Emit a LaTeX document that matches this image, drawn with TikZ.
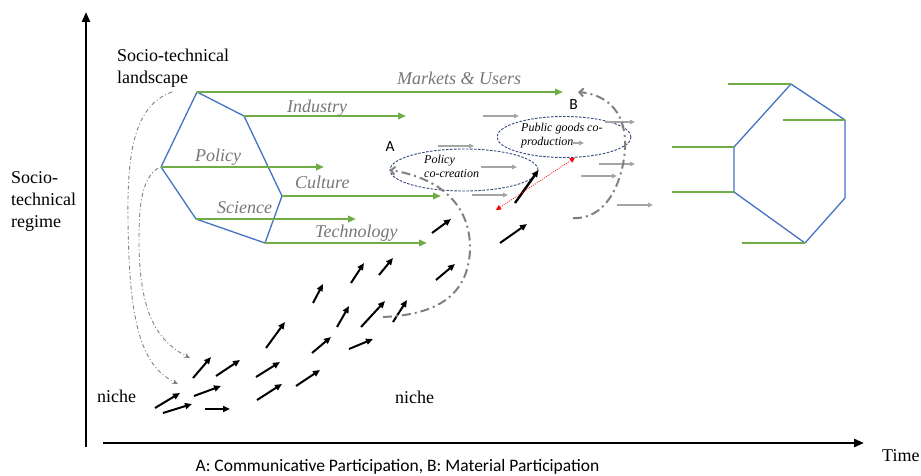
\documentclass[tikz,border=0pt]{standalone}
\usepackage{fontspec}
\setmainfont{Liberation Serif}
\newfontfamily\labelfont{Carlito}
\usepackage{xcolor}
\usetikzlibrary{arrows.meta,positioning,shapes.geometric}

\definecolor{trendgreen}{RGB}{112,173,71}
\definecolor{faceblue}{RGB}{68,114,196}
\definecolor{bubbleblue}{RGB}{47,69,122}
\definecolor{labelgray}{RGB}{118,118,118}
\definecolor{driftgray}{RGB}{165,165,165}
\definecolor{loopgray}{RGB}{128,128,128}

\begin{document}
\begin{tikzpicture}[x=1pt, y=-1pt,
    axis/.style={line width=2.6pt, -{Triangle[length=10pt,width=8pt]}},
    face/.style={draw=faceblue, line width=1.3pt, line join=round},
    trend/.style={draw=trendgreen, line width=2pt, -{Triangle[length=8pt,width=6.5pt]}},
    stub/.style={draw=trendgreen, line width=2pt},
    theme/.style={font=\fontsize{18}{21}\selectfont\itshape, text=labelgray, inner sep=0pt},
    plain/.style={font=\fontsize{18}{22}\selectfont, align=left, inner sep=0pt},
    note/.style={font=\fontsize{12}{14.5}\selectfont\itshape, align=left, inner sep=0pt},
    tag/.style={font=\labelfont\fontsize{15.5}{18}\selectfont, inner sep=0pt},
    bubble/.style={ellipse, draw=bubbleblue, line width=0.9pt, dash pattern=on 2.5pt off 1.5pt, inner sep=0pt},
    niche/.style={line width=2pt, -{Triangle[length=7pt,width=6pt]}},
    drift/.style={draw=driftgray, line width=1.1pt, -{Triangle[length=5pt,width=4.5pt]}},
    feedback/.style={draw=loopgray, line width=2pt, dash pattern=on 9pt off 4pt on 2pt off 4pt, -{Straight Barb[length=4pt,width=8pt]}},
    descend/.style={draw=loopgray, line width=0.9pt, dash pattern=on 4pt off 2.5pt on 1pt off 2.5pt, -{Stealth[length=6pt,width=5pt]}},
    exchange/.style={draw=red, line width=0.7pt, dash pattern=on 1pt off 1.2pt, {Triangle[length=5pt,width=5pt]}-{Triangle[length=5pt,width=5pt]}}
]
\useasboundingbox (0,0) rectangle (921,476);

% axes
\coordinate (v-start) at (86,447);
\coordinate (v-end) at (86,12);
\coordinate (h-start) at (103,443);
\coordinate (h-end) at (864,443);
\draw[axis] (v-start) -- (v-end);
\draw[axis] (h-start) -- (h-end);

\node[plain, anchor=north west] (landscape) at (117,48.5) {Socio-technical\\landscape};
\node[plain, anchor=north west] (regime) at (11,171) {Socio-\\technical\\regime};
\node[plain, anchor=base west] (niche-l) at (97,402) {niche};
\node[plain, anchor=base west] (niche-m) at (395,403) {niche};
\node[plain, anchor=base west] (time) at (882,461) {Time};
\node[tag, font=\labelfont\fontsize{17.5}{20}\selectfont, anchor=base] (caption) at (397.5,471) {A: Communicative Participation, B: Material Participation};

% landscape pressures (left hexagon)
\coordinate (ls-top) at (197,92);
\coordinate (ls-ur) at (244,116);
\coordinate (ls-r) at (282,196);
\coordinate (ls-br) at (265,243);
\coordinate (ls-bl) at (196,219);
\coordinate (ls-l) at (161,167);
\draw[face] (ls-top) -- (ls-ur) -- (ls-r) -- (ls-br) -- (ls-bl) -- (ls-l) -- cycle;

\coordinate (markets-end) at (563,92);
\coordinate (industry-end) at (406,116);
\coordinate (policy-end) at (324,167);
\coordinate (culture-end) at (441,196);
\coordinate (science-end) at (356,219);
\coordinate (technology-end) at (427,243);
\draw[trend] (ls-top) -- (markets-end);
\draw[trend] (ls-ur) -- (industry-end);
\draw[trend] (ls-l) -- (policy-end);
\draw[trend] (ls-r) -- (culture-end);
\draw[trend] (ls-bl) -- (science-end);
\draw[trend] (ls-br) -- (technology-end);

\node[theme, anchor=base west] (markets) at (397,85) {Markets \& Users};
\node[theme, anchor=base west] (industry) at (287,113) {Industry};
\node[theme, anchor=base west] (policy) at (195,161) {Policy};
\node[theme, anchor=base west] (culture) at (295,189) {Culture};
\node[theme, anchor=base west] (science) at (217,213) {Science};
\node[theme, anchor=base west] (technology) at (315,237) {Technology};

% new regime (right hexagon)
\coordinate (rs-top) at (791,84);
\coordinate (rs-ur) at (845,120);
\coordinate (rs-lr) at (845,198);
\coordinate (rs-bot) at (805,243);
\coordinate (rs-ll) at (734,192);
\coordinate (rs-ul) at (734,147);
\draw[face] (rs-top) -- (rs-ur) -- (rs-lr) -- (rs-bot) -- (rs-ll) -- (rs-ul) -- cycle;
\coordinate (rs-top-in) at (728,84);
\coordinate (rs-ur-in) at (783,120);
\coordinate (rs-ul-in) at (672,147);
\coordinate (rs-ll-in) at (672,192);
\coordinate (rs-bot-in) at (742,243);
\draw[stub] (rs-top-in) -- (rs-top);
\draw[stub] (rs-ur-in) -- (rs-ur);
\draw[stub] (rs-ul-in) -- (rs-ul);
\draw[stub] (rs-ll-in) -- (rs-ll);
\draw[stub] (rs-bot-in) -- (rs-bot);

% participation
\node[bubble, minimum width=148pt, minimum height=42pt] (copol) at (464,170) {};
\node[bubble, minimum width=134pt, minimum height=41pt] (copro) at (564,137) {};
\node[note, anchor=north west] (copol-text) at (424,154.8) {Policy\\co-creation};
\node[note, anchor=north west, font=\fontsize{12}{14}\selectfont\itshape] (copro-text) at (521,122.8) {Public goods co-\\production};
\node[tag] (tag-a) at (390,146.5) {A};
\node[tag] (tag-b) at (573.5,105) {B};

% small shifts in the regime
\draw[drift] (438,146) -- (474,146);
\draw[drift] (483,116) -- (519,116);
\draw[drift] (481,167) -- (517,167);
\draw[drift] (472,195) -- (508,195);
\draw[drift] (573,143) -- (584,143);
\draw[drift] (605,122) -- (635,122);
\draw[drift] (599,164) -- (635,164);
\draw[drift] (581,176) -- (617,176);
\draw[drift] (617,205) -- (653,205);

% niche innovations
\draw[niche] (155,408) -- (180,393);
\draw[niche] (163,413) -- (192,404);
\draw[niche] (205,409) -- (230,409);
\draw[niche] (193,378) -- (211,357);
\draw[niche] (216,376) -- (240,360);
\draw[niche] (194,396) -- (221,386);
\draw[niche] (256,377) -- (280,362);
\draw[niche] (257,400) -- (282,384);
\draw[niche] (266,348) -- (285,322);
\draw[niche] (296,386) -- (320,370);
\draw[niche] (312,353) -- (331,337);
\draw[niche] (313,303) -- (323,284);
\draw[niche] (349,349) -- (373,339);
\draw[niche] (337,327) -- (349,306);
\draw[niche] (351,283) -- (364,263);
\draw[niche] (361,327) -- (385,301);
\draw[niche] (379,275) -- (393,258);
\draw[niche] (393,322) -- (407,300);
\draw[niche] (436,280) -- (455,264);
\draw[niche] (432,233) -- (451,219);
\draw[niche] (500,243) -- (527,224);
\coordinate (push-start) at (515,203);
\draw[niche, line width=2.4pt] (push-start) -- (copol.east);

\coordinate (swap-end) at (496,210);
\draw[exchange] (swap-end) -- (copro.-62);

% feedback loops
\coordinate (loop-a) at (383,317);
\coordinate (loop-b) at (573,218);
\coordinate (loop-b-end) at (578,92);
\draw[feedback] (loop-a) .. controls (430,315) and (468,300) .. (470,250) .. controls (471,205) and (440,178) .. (copol.west);
\draw[feedback] (loop-b) .. controls (605,220) and (622,185) .. (625,150) .. controls (627,115) and (610,95) .. (loop-b-end);

% landscape pressure down to niches
\coordinate (down-a) at (172,92);
\coordinate (down-a-end) at (178,384);
\coordinate (down-b) at (158,168);
\coordinate (down-b-end) at (190,358);
\draw[descend] (down-a) .. controls (135,105) and (127,150) .. (128,220) .. controls (129,320) and (140,365) .. (down-a-end);
\draw[descend] (down-b) .. controls (140,180) and (139,210) .. (139,245) .. controls (140,310) and (155,340) .. (down-b-end);
\end{tikzpicture}
\end{document}
